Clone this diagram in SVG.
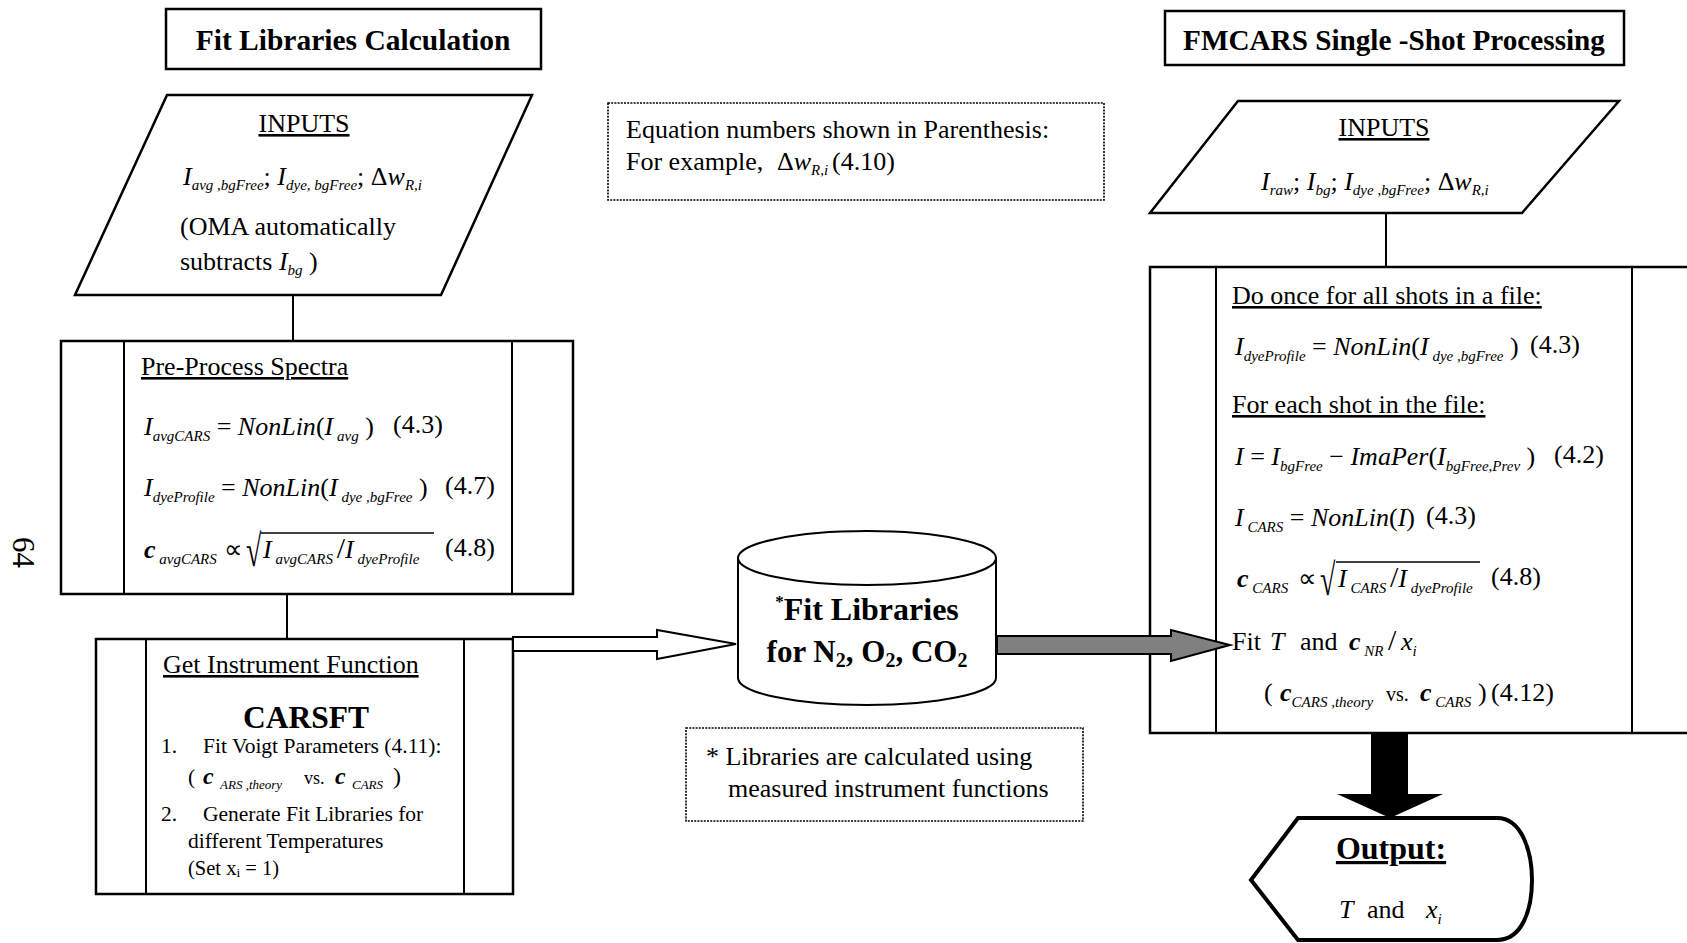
<svg xmlns="http://www.w3.org/2000/svg" width="1687" height="943" viewBox="0 0 1687 943">
<style>
svg{font-family:"Liberation Serif","Times New Roman",serif;font-size:26px}
text{fill:#000}
.i{font-style:italic}
.b{font-weight:bold}
.bi{font-weight:bold;font-style:italic}
.s{font-size:15px;font-style:italic}
.u{text-decoration:underline}
.box{fill:#fff;stroke:#000;stroke-width:2.5}
.ln{stroke:#000;stroke-width:2;fill:none}
.bar{stroke:#000;stroke-width:1.5}
.dot{fill:#fff;stroke:#000;stroke-width:1.6;stroke-dasharray:2 1.2}
.sm{font-size:21.5px}
</style>
<rect width="1687" height="943" fill="#fff"/>

<g id="title-left">
  <rect x="166" y="9" width="375" height="60" fill="#fff" stroke="#000" stroke-width="2.5"/>
  <text class="b" x="353" y="50" text-anchor="middle" font-size="29.5">Fit Libraries Calculation</text>
</g>

<g id="title-right">
  <rect x="1165" y="11" width="459" height="54" fill="#fff" stroke="#000" stroke-width="2.5"/>
  <text class="b" x="1394" y="50" text-anchor="middle" font-size="29.2">FMCARS Single -Shot Processing</text>
</g>

<g id="inputs-left">
  <polygon class="box" points="167,95 532,95 441,295 75,295"/>
  <text class="u" x="304" y="132" text-anchor="middle">INPUTS</text>
  <text x="183" y="185"><tspan class="i">I</tspan><tspan class="s" dy="5">avg ,bgFree</tspan><tspan dy="-5">; </tspan><tspan class="i">I</tspan><tspan class="s" dy="5">dye, bgFree</tspan><tspan dy="-5">; Δ</tspan><tspan class="i">w</tspan><tspan class="s" dy="5">R,i</tspan></text>
  <text x="180" y="235">(OMA automatically</text>
  <text x="180" y="270">subtracts <tspan class="i">I</tspan><tspan class="s" dy="5">bg</tspan><tspan dy="-5"> )</tspan></text>
</g>

<g id="note-equations">
  <rect class="dot" x="608" y="103" width="496" height="97"/>
  <text x="626" y="138">Equation numbers shown in Parenthesis:</text>
  <text x="626" y="170">For example,  <tspan x="777">Δ</tspan><tspan class="i">w</tspan><tspan class="s" dy="5">R,i</tspan><tspan dy="-5" x="832">(4.10)</tspan></text>
</g>

<g id="preprocess">
  <rect class="box" x="61" y="341" width="512" height="253"/>
  <line class="ln" x1="124" y1="341" x2="124" y2="594"/>
  <line class="ln" x1="512" y1="341" x2="512" y2="594"/>
  <text class="u" x="141" y="375">Pre-Process Spectra</text>
  <text x="144" y="435"><tspan class="i">I</tspan><tspan class="s" dy="6">avgCARS</tspan><tspan dy="-6">  = </tspan><tspan class="i">NonLin</tspan>(<tspan class="i">I</tspan><tspan class="s" dy="6"> avg</tspan><tspan dy="-6">  )</tspan></text>
  <text x="393" y="433">(4.3)</text>
  <text x="144" y="496"><tspan class="i">I</tspan><tspan class="s" dy="6">dyeProfile</tspan><tspan dy="-6">  = </tspan><tspan class="i">NonLin</tspan>(<tspan class="i">I</tspan><tspan class="s" dy="6"> dye ,bgFree</tspan><tspan dy="-6"> )</tspan></text>
  <text x="445" y="494">(4.7)</text>
  <text x="144" y="558"><tspan class="bi">c</tspan><tspan class="s" dy="6"> avgCARS</tspan><tspan dy="-6" x="224">∝</tspan></text>
  <text transform="translate(246,566) scale(1,1.6)" font-size="28">√</text>
  <text x="263" y="558"><tspan class="i">I</tspan><tspan class="s" dy="6"> avgCARS </tspan><tspan dy="-6" font-size="30">/</tspan><tspan class="i">I</tspan><tspan class="s" dy="6"> dyeProfile</tspan></text>
  <line class="bar" x1="261" y1="533" x2="434" y2="533"/>
  <text x="445" y="556">(4.8)</text>
</g>

<g id="instrument">
  <rect class="box" x="96" y="639" width="417" height="255"/>
  <line class="ln" x1="146" y1="639" x2="146" y2="894"/>
  <line class="ln" x1="464" y1="639" x2="464" y2="894"/>
  <text class="u" x="163" y="673">Get Instrument Function</text>
  <text class="b" x="306" y="728" text-anchor="middle" font-size="31.5">CARSFT</text>
  <text class="sm" x="161" y="753">1.</text>
  <text class="sm" x="203" y="753">Fit Voigt Parameters (4.11):</text>
  <text class="sm" x="188" y="784">(<tspan class="bi" style="font-size:24px" x="203">c</tspan><tspan style="font-size:13px;font-style:italic" dy="5" x="220">ARS ,theory</tspan><tspan dy="-5" style="font-size:18px" x="304">vs.</tspan><tspan class="bi" style="font-size:24px" x="335">c</tspan><tspan style="font-size:13px;font-style:italic" dy="5" x="352">CARS</tspan><tspan dy="-5" style="font-size:24px" x="393">)</tspan></text>
  <text class="sm" x="161" y="821">2.</text>
  <text class="sm" x="203" y="821">Generate Fit Libraries for</text>
  <text class="sm" x="188" y="848">different Temperatures</text>
  <text x="188" y="875" font-size="20.5">(Set x<tspan font-size="13.5" dy="2">i</tspan><tspan dy="-2"> = 1)</tspan></text>
</g>

<g id="fit-libraries">
  <path d="M738,558 L738,678 A129,27 0 0 0 996,678 L996,558 Z" fill="#fff" stroke="#000" stroke-width="2"/>
  <ellipse cx="867" cy="558" rx="129" ry="27" fill="#fff" stroke="#000" stroke-width="2"/>
  <text class="b" x="867" y="620" text-anchor="middle" font-size="32"><tspan font-size="17" dy="-13">*</tspan><tspan dy="13">Fit Libraries</tspan></text>
  <text class="b" x="867" y="662" text-anchor="middle" font-size="31">for N<tspan font-size="20" dy="5">2</tspan><tspan dy="-5">, O</tspan><tspan font-size="20" dy="5">2</tspan><tspan dy="-5">, CO</tspan><tspan font-size="20" dy="5">2</tspan></text>
</g>

<g id="note-libraries">
  <rect class="dot" x="686" y="728" width="397" height="93"/>
  <text x="706" y="765">* Libraries are calculated using</text>
  <text x="728" y="797">measured instrument functions</text>
</g>

<g id="inputs-right">
  <polygon class="box" points="1238,101 1619,101 1522,213 1150,213"/>
  <text class="u" x="1384" y="136" text-anchor="middle">INPUTS</text>
  <text x="1261" y="190"><tspan class="i">I</tspan><tspan class="s" dy="5">raw</tspan><tspan dy="-5">; </tspan><tspan class="i">I</tspan><tspan class="s" dy="5">bg</tspan><tspan dy="-5">; </tspan><tspan class="i">I</tspan><tspan class="s" dy="5">dye ,bgFree</tspan><tspan dy="-5">; Δ</tspan><tspan class="i">w</tspan><tspan class="s" dy="5">R,i</tspan></text>
</g>

<g id="processing">
  <rect class="box" x="1150" y="267" width="560" height="466"/>
  <line class="ln" x1="1216" y1="267" x2="1216" y2="733"/>
  <line class="ln" x1="1632" y1="267" x2="1632" y2="733"/>
  <text class="u" x="1232" y="304">Do once for all shots in a file:</text>
  <text x="1235" y="355"><tspan class="i">I</tspan><tspan class="s" dy="6">dyeProfile</tspan><tspan dy="-6">  = </tspan><tspan class="i">NonLin</tspan>(<tspan class="i">I</tspan><tspan class="s" dy="6"> dye ,bgFree</tspan><tspan dy="-6"> )</tspan></text>
  <text x="1530" y="353">(4.3)</text>
  <text class="u" x="1232" y="413">For each shot in the file:</text>
  <text x="1235" y="465"><tspan class="i">I</tspan> = <tspan class="i">I</tspan><tspan class="s" dy="6">bgFree</tspan><tspan dy="-6"> − </tspan><tspan class="i">ImaPer</tspan>(<tspan class="i">I</tspan><tspan class="s" dy="6">bgFree,Prev</tspan><tspan dy="-6">  )</tspan></text>
  <text x="1554" y="463">(4.2)</text>
  <text x="1235" y="526"><tspan class="i">I</tspan><tspan class="s" dy="6"> CARS</tspan><tspan dy="-6">  = </tspan><tspan class="i">NonLin</tspan>(<tspan class="i">I</tspan>)</text>
  <text x="1426" y="524">(4.3)</text>
  <text x="1237" y="587"><tspan class="bi">c</tspan><tspan class="s" dy="6"> CARS</tspan><tspan dy="-6" x="1298">∝</tspan></text>
  <text transform="translate(1320,595) scale(1,1.6)" font-size="28">√</text>
  <text x="1338" y="587"><tspan class="i">I</tspan><tspan class="s" dy="6"> CARS </tspan><tspan dy="-6" font-size="30">/</tspan><tspan class="i">I</tspan><tspan class="s" dy="6"> dyeProfile</tspan></text>
  <line class="bar" x1="1336" y1="562" x2="1480" y2="562"/>
  <text x="1491" y="585">(4.8)</text>
  <text x="1232" y="650">Fit<tspan class="i" x="1270">T</tspan><tspan x="1300">and</tspan><tspan class="bi" x="1349">c</tspan><tspan class="s" dy="6"> NR</tspan><tspan dy="-6" font-size="30" x="1388">/</tspan><tspan class="i" x="1401">x</tspan><tspan class="s" dy="6">i</tspan></text>
  <text x="1264" y="701">(<tspan class="bi" x="1280">c</tspan><tspan class="s" dy="6">CARS ,theory</tspan><tspan dy="-6" font-size="20" x="1386">vs.</tspan><tspan class="bi" x="1420">c</tspan><tspan class="s" dy="6"> CARS</tspan><tspan dy="-6" x="1478">)</tspan><tspan x="1491">(4.12)</tspan></text>
</g>

<g id="output">
  <path d="M1298,818 L1497,818 C1522,818 1532,852 1532,880 C1532,910 1522,940 1497,940 L1298,940 L1251,880 Z" fill="#fff" stroke="#000" stroke-width="4"/>
  <text class="b u" x="1391" y="859" text-anchor="middle" font-size="32">Output:</text>
  <text x="1339" y="918"><tspan class="i">T</tspan><tspan x="1367">and</tspan><tspan class="i" x="1426">x</tspan><tspan class="s" dy="6">i</tspan></text>
</g>

<text x="13" y="537" transform="rotate(90 13 537)" font-size="31">64</text>

<g id="connectors">
  <line class="ln" x1="293" y1="295" x2="293" y2="341"/>
  <line class="ln" x1="287" y1="594" x2="287" y2="639"/>
  <line class="ln" x1="1386" y1="213" x2="1386" y2="267"/>
  <polygon points="513,637 657,637 657,630 736,644 657,659 657,651 513,651" fill="#fff" stroke="#000" stroke-width="2"/>
  <polygon points="997,636 1171,636 1171,630 1230,645 1171,661 1171,654 997,654" fill="#808080" stroke="#000" stroke-width="2"/>
  <polygon points="1371,734 1408,734 1408,794 1443,794 1390,818 1337,794 1371,794" fill="#000"/>
</g>
</svg>
